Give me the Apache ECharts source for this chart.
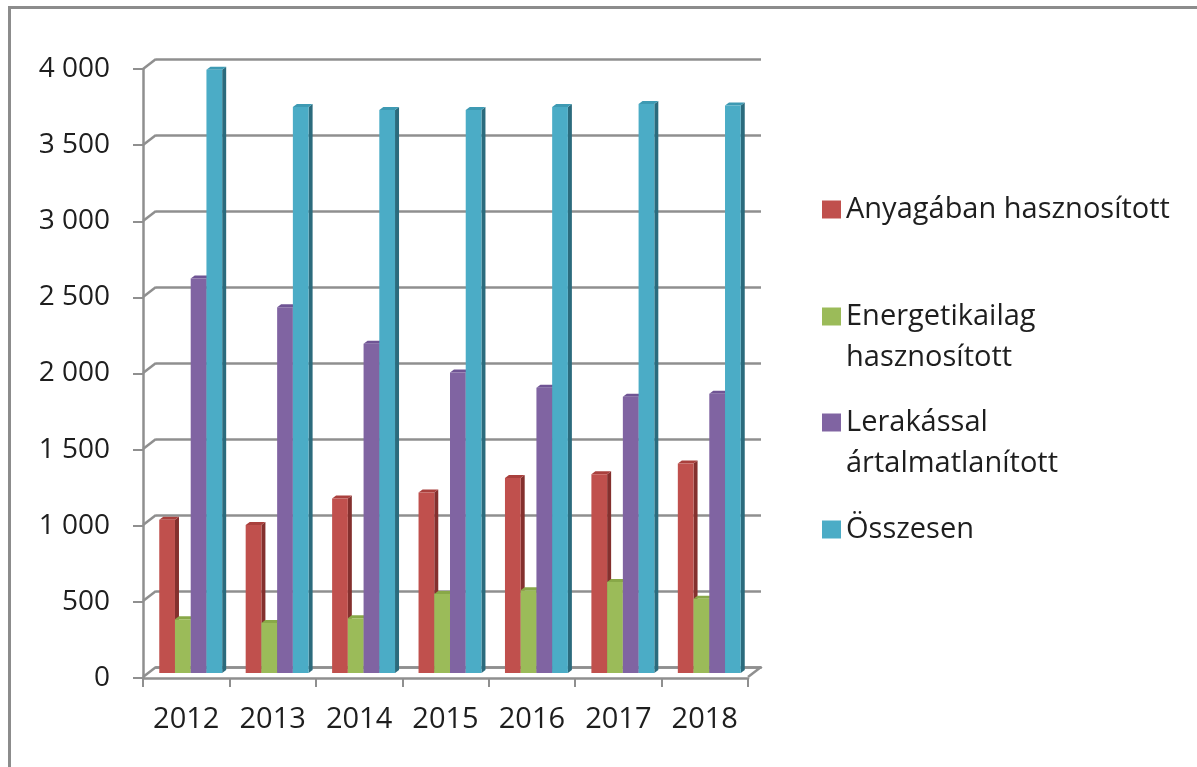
<!DOCTYPE html>
<html>
<head>
<meta charset="utf-8">
<script src="https://cdn.jsdelivr.net/npm/echarts@6/dist/echarts.min.js"></script>
<style>
html, body { margin: 0; padding: 0; background: #fff; }
#chart { width: 1197px; height: 767px; }
</style>
</head>
<body>
<div id="chart"></div>
<script>
// years on the category axis
var years = ['2012', '2013', '2014', '2015', '2016', '2017', '2018'];
// series values
var anyagaban = [1010, 975, 1150, 1190, 1285, 1310, 1380];
var energetikailag = [355, 330, 360, 520, 545, 600, 490];
var lerakassal = [2600, 2410, 2170, 1980, 1880, 1820, 1840];
var osszesen = [3975, 3730, 3710, 3710, 3730, 3750, 3740];
var yTicks = [0, 500, 1000, 1500, 2000, 2500, 3000, 3500, 4000];

var seriesNames = ['Anyagában hasznosított', 'Energetikailag hasznosított', 'Lerakással ártalmatlanított', 'Összesen'];
var seriesData = [anyagaban, energetikailag, lerakassal, osszesen];
var faces = [
  { front: '#C0504D', side: '#84302E', top: '#A9403D' },
  { front: '#9BBB59', side: '#6A8A33', top: '#88A848' },
  { front: '#8064A2', side: '#553F78', top: '#6F5494' },
  { front: '#4BACC6', side: '#2B6B7D', top: '#3E9AB3' }
];

var FONT = '"Open Sans"';
var GRID_COLOR = '#8f8f8f';
var DX = 13, DY = 10; // depth offset front -> back wall

function fmtThousands(v) {
  return String(v).replace(/\B(?=(\d{3})+(?!\d))/g, ' ');
}

function barRenderer(idx) {
  var c = faces[idx];
  return function (params, api) {
    var cat = api.value(0), val = api.value(1);
    var base = api.coord([cat, 0]);
    var top = api.coord([cat, val]);
    var band = api.size([1, 0])[0];
    var bw = band * 0.182;
    var x0 = base[0] - 2 * bw + idx * bw - 1.5;
    var x1 = x0 + bw;
    var y0 = base[1], y1 = top[1];
    var dx = 4, dy = 3;
    return {
      type: 'group',
      children: [
        { type: 'polygon', shape: { points: [[x1, y0], [x1 + dx, y0 - dy], [x1 + dx, y1 - dy], [x1, y1]] }, style: { fill: c.side } },
        { type: 'polygon', shape: { points: [[x0, y1], [x0 + dx, y1 - dy], [x1 + dx, y1 - dy], [x1, y1]] }, style: { fill: c.top } },
        { type: 'rect', shape: { x: x0, y: y1, width: bw, height: y0 - y1 }, style: { fill: c.front } }
      ]
    };
  };
}

var chart = echarts.init(document.getElementById('chart'));

var series = seriesNames.map(function (name, i) {
  return {
    name: name,
    type: 'custom',
    xAxisIndex: 1,
    yAxisIndex: 1,
    itemStyle: { color: faces[i].front },
    renderItem: barRenderer(i),
    data: seriesData[i].map(function (v, j) { return [j, v]; })
  };
});

// diagonal joins between front axis ticks and back-wall gridlines
series.push({
  type: 'custom',
  silent: true,
  xAxisIndex: 0,
  yAxisIndex: 0,
  z: 1,
  renderItem: function (params, api) {
    var y = api.coord([0, api.value(1)])[1];
    var x = params.coordSys.x;
    var lines = [
      { type: 'line', shape: { x1: x, y1: y, x2: x - DX, y2: y + DY }, style: { stroke: GRID_COLOR, lineWidth: 2.5 } }
    ];
    if (api.value(1) === 0) {
      var xr = x + params.coordSys.width;
      lines.push({ type: 'line', shape: { x1: xr, y1: y, x2: xr - DX, y2: y + DY }, style: { stroke: GRID_COLOR, lineWidth: 2.5 } });
    }
    return { type: 'group', children: lines };
  },
  data: yTicks.map(function (v) { return [0, v]; })
});

function legendFor(name, top, text) {
  return {
    data: [name],
    left: 822,
    top: top,
    padding: 0,
    orient: 'vertical',
    icon: 'rect',
    itemWidth: 19,
    itemHeight: 18,
    itemGap: 8,
    selectedMode: false,
    formatter: function () { return text; },
    textStyle: { fontFamily: FONT, fontSize: 29, lineHeight: 41, color: '#1e1e1e' }
  };
}

var option = {
  animation: false,
  backgroundColor: '#fff',
  graphic: [{
    type: 'rect',
    shape: { x: 9.5, y: 7.5, width: 1400, height: 1000 },
    style: { fill: 'none', stroke: '#8c8c8c', lineWidth: 3 },
    silent: true
  }],
  legend: [
    legendFor(seriesNames[0], 189, 'Anyagában hasznosított'),
    legendFor(seriesNames[1], 255, ' \nEnergetikailag\nhasznosított'),
    legendFor(seriesNames[2], 361, ' \nLerakással\nártalmatlanított'),
    legendFor(seriesNames[3], 509, 'Összesen')
  ],
  grid: [
    { left: 156, top: 59, width: 605, height: 608 },   // back wall
    { left: 149, top: 66, width: 605, height: 607 },   // bars
    { left: 143, top: 69, width: 605, height: 609 }    // front axes
  ],
  xAxis: [
    { gridIndex: 0, type: 'category', data: years, axisLine: { lineStyle: { color: GRID_COLOR, width: 2.5 } }, axisTick: { show: false }, axisLabel: { show: false } },
    { gridIndex: 1, type: 'category', data: years, show: false },
    {
      gridIndex: 2, type: 'category', data: years,
      axisLine: { lineStyle: { color: GRID_COLOR, width: 2.5 } },
      axisTick: { show: true, length: 9, lineStyle: { color: GRID_COLOR, width: 2 } },
      axisLabel: { fontFamily: FONT, fontSize: 29, color: '#1e1e1e', margin: 27 }
    }
  ],
  yAxis: [
    {
      gridIndex: 0, type: 'value', min: 0, max: 4000, interval: 500,
      axisLine: { show: false }, axisTick: { show: false }, axisLabel: { show: false },
      splitLine: { lineStyle: { color: GRID_COLOR, width: 2.5 } }
    },
    { gridIndex: 1, type: 'value', min: 0, max: 4000, interval: 500, show: false },
    {
      gridIndex: 2, type: 'value', min: 0, max: 4000, interval: 500,
      axisLine: { show: true, lineStyle: { color: GRID_COLOR, width: 2.5 } },
      axisTick: { show: true, length: 10, lineStyle: { color: GRID_COLOR, width: 2 } },
      splitLine: { show: false },
      axisLabel: { fontFamily: FONT, fontSize: 28, color: '#1e1e1e', margin: 33, formatter: fmtThousands }
    }
  ],
  series: series
};

chart.setOption(option);
</script>
</body>
</html>
